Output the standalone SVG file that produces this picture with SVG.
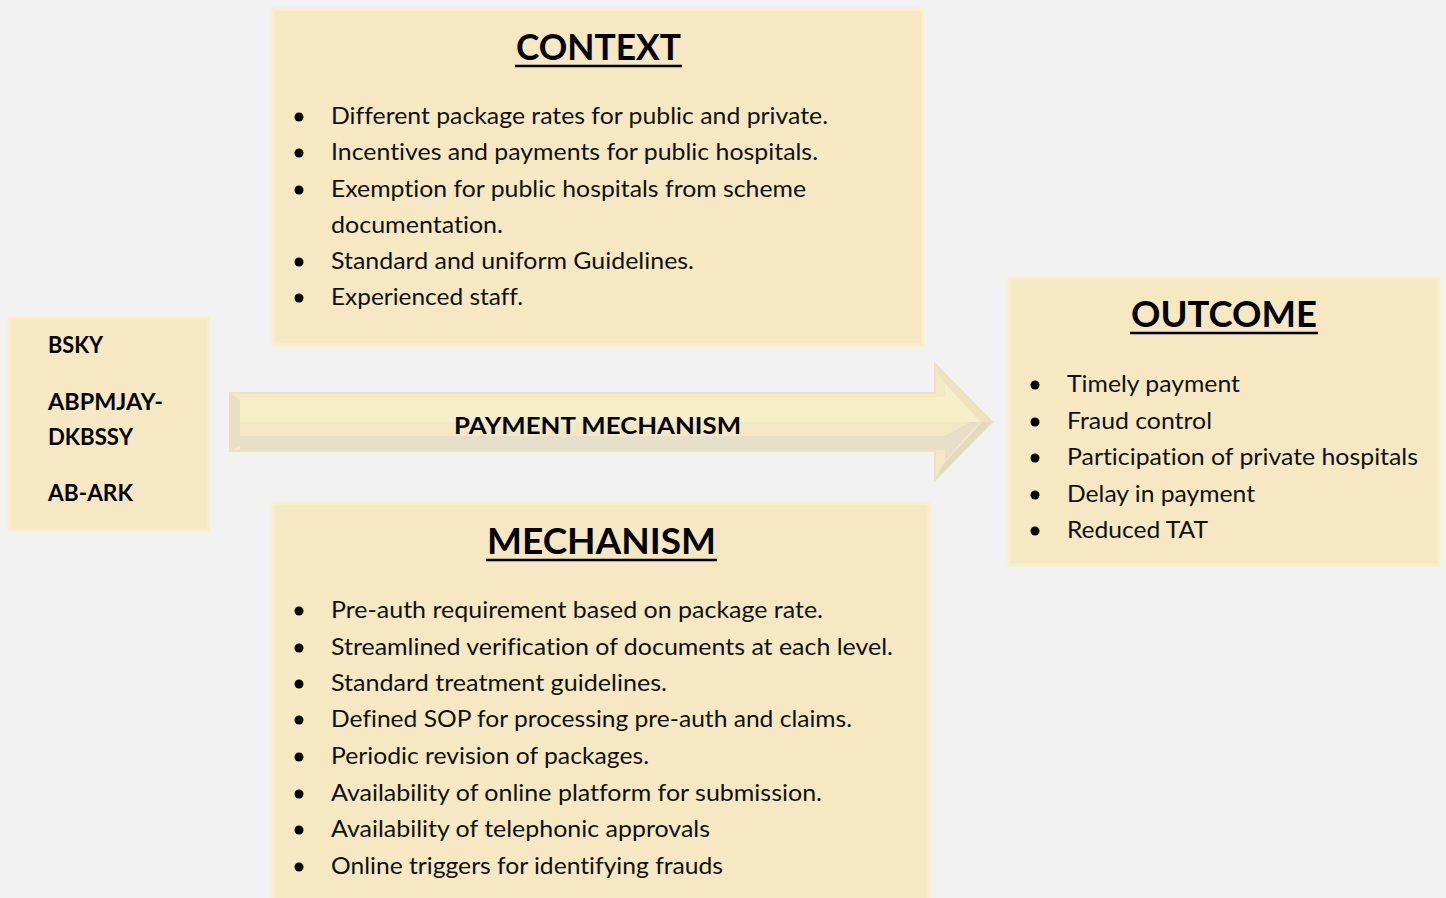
<svg xmlns="http://www.w3.org/2000/svg" width="1446" height="898" viewBox="0 0 1446 898">
<style>
.box{fill:#f5e8c3;stroke:#fbeecb;stroke-width:3}
text{font-variant-ligatures:none;font-feature-settings:"liga" 0}
.t{font-family:Lato,"Open Sans","Liberation Sans",sans-serif;font-size:23px;fill:#111}
.h{font-family:Lato,"Open Sans","Liberation Sans",sans-serif;font-size:36px;font-weight:bold;fill:#000}
.b{font-family:Lato,"Open Sans","Liberation Sans",sans-serif;font-size:22px;font-weight:bold;fill:#000}
.ul{stroke:#000;stroke-width:2.5}
.dot{fill:#000}
</style>
<rect width="1446" height="898" fill="#f2f2f2"/>

<g id="connectors">
  <polygon points="230,393 935,393 935,364 992,422 935,480 935,451 230,451" fill="#f2e8c4" stroke="#efe2b8" stroke-width="2"/>
  <polygon points="240,397 945,397 945,384 980,422 240,422" fill="#f7efc7"/>
  <polygon points="240,436 945,436 945,460 980,422 970,422 945,436" fill="#e6dec8"/>
  <polygon points="240,436 945,436 945,450 240,450" fill="#e6dfc9"/>
  <polygon points="230,393 240,401 240,446 230,451" fill="#eadfc2"/>
  <polygon points="935,364 992,422 982,422 942,380" fill="#ede1bf"/>
  <polygon points="935,480 992,422 982,422 942,466" fill="#e2d9c3"/>
  <text class="b" x="454" y="434" textLength="287" lengthAdjust="spacingAndGlyphs" font-size="24">PAYMENT MECHANISM</text>
</g>

<g id="schemes">
  <rect class="box" x="9" y="318" width="199" height="212"/>
  <text class="b" x="48" y="353" textLength="55" lengthAdjust="spacingAndGlyphs">BSKY</text>
  <text class="b" x="48" y="410" textLength="115" lengthAdjust="spacingAndGlyphs">ABPMJAY-</text>
  <text class="b" x="48" y="445" textLength="85" lengthAdjust="spacingAndGlyphs">DKBSSY</text>
  <text class="b" x="48" y="501" textLength="85" lengthAdjust="spacingAndGlyphs">AB-ARK</text>
</g>

<g id="context">
  <rect class="box" x="273" y="9" width="650" height="336"/>
  <text class="h" x="516" y="60" textLength="165" lengthAdjust="spacingAndGlyphs">CONTEXT</text>
  <line class="ul" x1="515" y1="66" x2="682" y2="66"/>
  <circle class="dot" cx="299" cy="117" r="4.5"/>
  <text class="t" x="331" y="124" textLength="497" lengthAdjust="spacingAndGlyphs">Different package rates for public and private.</text>
  <circle class="dot" cx="299" cy="153" r="4.5"/>
  <text class="t" x="331" y="160" textLength="487" lengthAdjust="spacingAndGlyphs">Incentives and payments for public hospitals.</text>
  <circle class="dot" cx="299" cy="190" r="4.5"/>
  <text class="t" x="331" y="197" textLength="475" lengthAdjust="spacingAndGlyphs">Exemption for public hospitals from scheme</text>
  <text class="t" x="331" y="233" textLength="172" lengthAdjust="spacingAndGlyphs">documentation.</text>
  <circle class="dot" cx="299" cy="262" r="4.5"/>
  <text class="t" x="331" y="269" textLength="363" lengthAdjust="spacingAndGlyphs">Standard and uniform Guidelines.</text>
  <circle class="dot" cx="299" cy="298" r="4.5"/>
  <text class="t" x="331" y="305" textLength="192" lengthAdjust="spacingAndGlyphs">Experienced staff.</text>
</g>

<g id="mechanism">
  <rect class="box" x="273" y="503" width="656" height="400"/>
  <text class="h" x="487" y="554" textLength="229" lengthAdjust="spacingAndGlyphs">MECHANISM</text>
  <line class="ul" x1="486" y1="560" x2="717" y2="560"/>
  <circle class="dot" cx="299" cy="611" r="4.5"/>
  <text class="t" x="331" y="618" textLength="492" lengthAdjust="spacingAndGlyphs">Pre-auth requirement based on package rate.</text>
  <circle class="dot" cx="299" cy="648" r="4.5"/>
  <text class="t" x="331" y="655" textLength="562" lengthAdjust="spacingAndGlyphs">Streamlined verification of documents at each level.</text>
  <circle class="dot" cx="299" cy="684" r="4.5"/>
  <text class="t" x="331" y="691" textLength="336" lengthAdjust="spacingAndGlyphs">Standard treatment guidelines.</text>
  <circle class="dot" cx="299" cy="720" r="4.5"/>
  <text class="t" x="331" y="727" textLength="521" lengthAdjust="spacingAndGlyphs">Defined SOP for processing pre-auth and claims.</text>
  <circle class="dot" cx="299" cy="757" r="4.5"/>
  <text class="t" x="331" y="764" textLength="318" lengthAdjust="spacingAndGlyphs">Periodic revision of packages.</text>
  <circle class="dot" cx="299" cy="794" r="4.5"/>
  <text class="t" x="331" y="801" textLength="491" lengthAdjust="spacingAndGlyphs">Availability of online platform for submission.</text>
  <circle class="dot" cx="299" cy="830" r="4.5"/>
  <text class="t" x="331" y="837" textLength="379" lengthAdjust="spacingAndGlyphs">Availability of telephonic approvals</text>
  <circle class="dot" cx="299" cy="867" r="4.5"/>
  <text class="t" x="331" y="874" textLength="392" lengthAdjust="spacingAndGlyphs">Online triggers for identifying frauds</text>
</g>

<g id="outcome">
  <rect class="box" x="1009" y="278" width="430" height="287"/>
  <text class="h" x="1131" y="327" textLength="186" lengthAdjust="spacingAndGlyphs">OUTCOME</text>
  <line class="ul" x1="1130" y1="333" x2="1318" y2="333"/>
  <circle class="dot" cx="1035" cy="385" r="4.5"/>
  <text class="t" x="1067" y="392" textLength="173" lengthAdjust="spacingAndGlyphs">Timely payment</text>
  <circle class="dot" cx="1035" cy="422" r="4.5"/>
  <text class="t" x="1067" y="429" textLength="145" lengthAdjust="spacingAndGlyphs">Fraud control</text>
  <circle class="dot" cx="1035" cy="458" r="4.5"/>
  <text class="t" x="1067" y="465" textLength="351" lengthAdjust="spacingAndGlyphs">Participation of private hospitals</text>
  <circle class="dot" cx="1035" cy="495" r="4.5"/>
  <text class="t" x="1067" y="502" textLength="188" lengthAdjust="spacingAndGlyphs">Delay in payment</text>
  <circle class="dot" cx="1035" cy="531" r="4.5"/>
  <text class="t" x="1067" y="538" textLength="141" lengthAdjust="spacingAndGlyphs">Reduced TAT</text>
</g>
</svg>
